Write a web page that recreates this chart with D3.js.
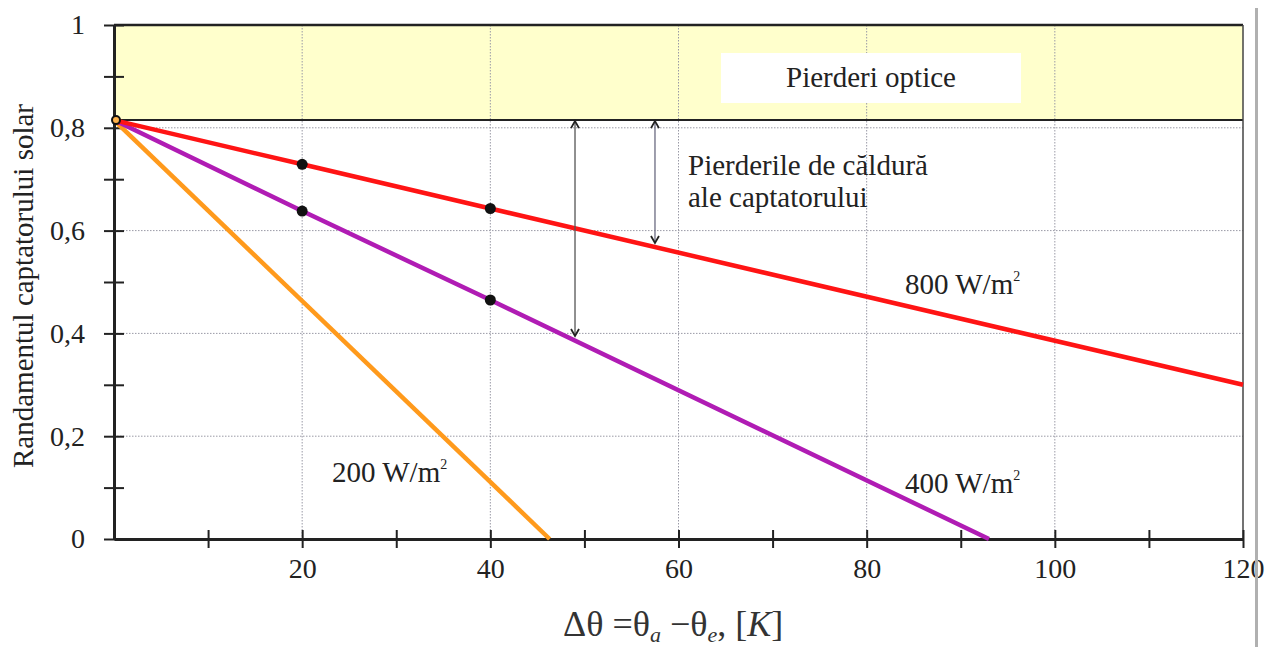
<!DOCTYPE html>
<html>
<head>
<meta charset="utf-8">
<script src="https://cdn.jsdelivr.net/npm/d3@7"></script>
<style>
  body { margin: 0; background: #fff; }
  svg, svg text { font-family: "Liberation Serif", "Times New Roman", serif; }
  svg { display: block; }
</style>
</head>
<body>
<div id="chart"></div>
<script>
// optical efficiency (where all curves start)
var eta0 = 0.815

// collector curves
var dt800 = [0, 20, 40, 120]
var eta800 = [0.815, 0.729, 0.643, 0.30]
var dt400 = [0, 20, 40, 93]
var eta400 = [0.815, 0.638, 0.465, 0]
var dt200 = [0, 46.3]
var eta200 = [0.815, 0]

// measured points (black dots)
var dotDt = [20, 40, 20, 40]
var dotEta = [0.729, 0.643, 0.638, 0.465]

var xTickValues = [10, 20, 30, 40, 50, 60, 70, 80, 90, 100, 110, 120]
var xLabelValues = [20, 40, 60, 80, 100, 120]
var yTickValues = [0, 0.1, 0.2, 0.3, 0.4, 0.5, 0.6, 0.7, 0.8, 0.9, 1]
var yLabelValues = [0, 0.2, 0.4, 0.6, 0.8, 1]
var yLabels = ["0", "0,2", "0,4", "0,6", "0,8", "1"]

var width = 1269, height = 647
var serif = "Liberation Serif, Times New Roman, serif"

var svg = d3.select("#chart").append("svg")
    .attr("width", width)
    .attr("height", height)

var x = d3.scaleLinear().domain([0, 120]).range([114, 1243])
var y = d3.scaleLinear().domain([0, 1]).range([539, 25])

// optical losses band
svg.append("rect")
    .attr("x", x(0)).attr("y", y(1))
    .attr("width", x(120) - x(0)).attr("height", y(eta0) - y(1))
    .attr("fill", "#ffffcc")

// grid
svg.append("g").selectAll("line")
    .data(xLabelValues.slice(0, 5))
    .enter().append("line")
    .attr("x1", function(d){ return x(d) }).attr("x2", function(d){ return x(d) })
    .attr("y1", y(1)).attr("y2", y(0))
    .attr("stroke", "#9a9aa6").attr("stroke-width", 1).attr("stroke-dasharray", "1.5,1.5")
svg.append("g").selectAll("line")
    .data(yLabelValues.slice(1, 5))
    .enter().append("line")
    .attr("x1", x(0)).attr("x2", x(120))
    .attr("y1", function(d){ return y(d) }).attr("y2", function(d){ return y(d) })
    .attr("stroke", "#9a9aa6").attr("stroke-width", 1).attr("stroke-dasharray", "1.5,1.5")

// white label box
svg.append("rect")
    .attr("x", 721).attr("y", 53).attr("width", 300).attr("height", 50)
    .attr("fill", "#fff")
svg.append("text")
    .attr("x", 871).attr("y", 87)
    .attr("text-anchor", "middle")
    .attr("font-size", 29).attr("fill", "#222")
    .text("Pierderi optice")

// frame
svg.append("line").attr("x1", x(0)).attr("x2", x(120)).attr("y1", y(1)).attr("y2", y(1))
    .attr("stroke", "#222").attr("stroke-width", 2.5)
svg.append("line").attr("x1", x(0)).attr("x2", x(120)).attr("y1", y(eta0)).attr("y2", y(eta0))
    .attr("stroke", "#222").attr("stroke-width", 2)
svg.append("line").attr("x1", x(120)).attr("x2", x(120)).attr("y1", y(1)).attr("y2", y(0))
    .attr("stroke", "#444").attr("stroke-width", 1.5)

// axes
var xAxis = d3.axisBottom(x).tickValues(xTickValues).tickSize(0).tickFormat("")
var gx = svg.append("g").attr("transform", "translate(0," + y(0) + ")").call(xAxis)
    .attr("font-family", serif)
gx.select(".domain").attr("stroke", "#222").attr("stroke-width", 3)
gx.selectAll(".tick line").attr("y1", -9).attr("y2", 9).attr("stroke", "#222").attr("stroke-width", 2)
gx.selectAll(".tick").filter(function(d){ return xLabelValues.indexOf(d) >= 0 })
    .append("text")
    .attr("y", 39).attr("fill", "#222")
    .attr("font-size", 28)
    .text(function(d){ return d })

var yAxis = d3.axisLeft(y).tickValues(yTickValues).tickSize(0).tickFormat("")
var gy = svg.append("g").attr("transform", "translate(" + x(0) + ",0)").call(yAxis)
    .attr("font-family", serif)
gy.select(".domain").attr("stroke", "#222").attr("stroke-width", 3)
gy.selectAll(".tick line").attr("x1", -10).attr("x2", 10).attr("stroke", "#222").attr("stroke-width", 2)
gy.selectAll(".tick").filter(function(d){ return yLabelValues.indexOf(d) >= 0 })
    .append("text")
    .attr("x", -29).attr("dy", "0.32em").attr("fill", "#222")
    .attr("text-anchor", "end")
    .attr("font-size", 28)
    .text(function(d){ return yLabels[yLabelValues.indexOf(d)] })

// curves
var line = d3.line().x(function(d){ return x(d[0]) }).y(function(d){ return y(d[1]) })
function pairs(a, b){ return a.map(function(v, i){ return [v, b[i]] }) }
svg.append("path").datum(pairs(dt200, eta200)).attr("d", line)
    .attr("fill", "none").attr("stroke", "#ff9a1c").attr("stroke-width", 4.5)
svg.append("path").datum(pairs(dt400, eta400)).attr("d", line)
    .attr("fill", "none").attr("stroke", "#b01cb4").attr("stroke-width", 4.5)
svg.append("path").datum(pairs(dt800, eta800)).attr("d", line)
    .attr("fill", "none").attr("stroke", "#ff1414").attr("stroke-width", 4.5)

svg.selectAll(".dot").data(pairs(dotDt, dotEta)).enter().append("circle")
    .attr("cx", function(d){ return x(d[0]) }).attr("cy", function(d){ return y(d[1]) })
    .attr("r", 5.5).attr("fill", "#111")
svg.append("circle").attr("cx", x(0) + 2).attr("cy", y(eta0))
    .attr("r", 4).attr("fill", "#ffb24a").attr("stroke", "#111").attr("stroke-width", 2)

// double arrows (heat losses)
function dblArrow(xv, y1, y2, col){
    var px = x(xv)
    svg.append("line").attr("x1", px).attr("x2", px).attr("y1", y1).attr("y2", y2)
        .attr("stroke", col).attr("stroke-width", 1.3)
    svg.append("path").attr("d", "M" + (px - 4) + "," + (y1 + 7) + "L" + px + "," + y1 + "L" + (px + 4) + "," + (y1 + 7))
        .attr("fill", "none").attr("stroke", "#222").attr("stroke-width", 1.8)
    svg.append("path").attr("d", "M" + (px - 4) + "," + (y2 - 7) + "L" + px + "," + y2 + "L" + (px + 4) + "," + (y2 - 7))
        .attr("fill", "none").attr("stroke", "#222").attr("stroke-width", 1.8)
}
dblArrow(49, y(eta0) + 1, 336, "#555")
dblArrow(57.5, y(eta0) + 1, 243, "#6a6a80")

svg.append("text").attr("x", 688).attr("y", 175)
    .attr("font-size", 29).attr("fill", "#222").text("Pierderile de căldură")
svg.append("text").attr("x", 688).attr("y", 207)
    .attr("font-size", 29).attr("fill", "#222").text("ale captatorului")

// curve labels
function wLabel(px, py, val){
    var t = svg.append("text").attr("x", px).attr("y", py).attr("font-size", 29).attr("fill", "#222")
    t.append("tspan").text(val + " W/m")
    t.append("tspan").attr("font-size", 14).attr("dy", -13).text("2")
}
wLabel(905, 294, "800")
wLabel(905, 493, "400")
wLabel(332, 482, "200")

// axis titles
svg.append("text")
    .attr("transform", "translate(33,286) rotate(-90)")
    .attr("text-anchor", "middle")
    .attr("font-size", 29).attr("fill", "#222")
    .text("Randamentul captatorului solar")

var xt = svg.append("text").attr("x", 563).attr("y", 636)
    .attr("font-size", 36).attr("fill", "#333")
xt.append("tspan").text("Δθ =θ")
xt.append("tspan").attr("font-size", 22).attr("font-style", "italic").attr("dy", 6).text("a")
xt.append("tspan").attr("dy", -6).text(" −θ")
xt.append("tspan").attr("font-size", 22).attr("font-style", "italic").attr("dy", 6).text("e")
xt.append("tspan").attr("dy", -6).text(", [")
xt.append("tspan").attr("font-style", "italic").text("K")
xt.append("tspan").text("]")

// page edge bar at right
svg.append("rect").attr("x", 1255).attr("y", 8).attr("width", 3).attr("height", 639).attr("fill", "#b0b0b0")
</script>
</body>
</html>
